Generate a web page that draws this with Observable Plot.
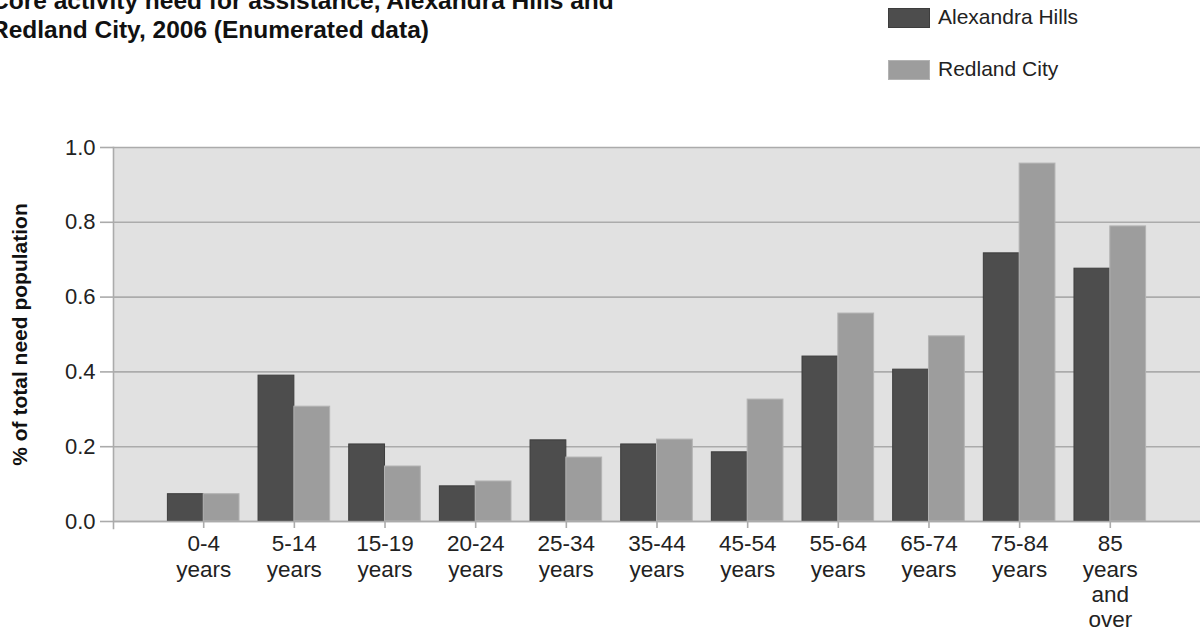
<!DOCTYPE html>
<html>
<head>
<meta charset="utf-8">
<script src="https://cdn.jsdelivr.net/npm/d3@7"></script>
<script src="https://cdn.jsdelivr.net/npm/@observablehq/plot@0.6"></script>
<style>
  html, body { margin: 0; padding: 0; background: #fff; overflow: hidden; }
  body { font-family: "Liberation Sans", Arial, sans-serif; width: 1200px; height: 637px; position: relative; }
  #header { position: relative; height: 100px; }
  #title { position: absolute; left: -9px; top: -14px; font-weight: bold; font-size: 24.5px; line-height: 29px; color: #111; white-space: nowrap; }
  #legend { position: absolute; left: 888px; top: 0; }
  .item { position: absolute; left: 0; white-space: nowrap; font-size: 21px; color: #222; }
  .sw { position: absolute; left: 0; width: 42px; height: 20px; box-sizing: border-box; }
  .lab { position: absolute; left: 50px; top: -3px; line-height: 24px; }
</style>
</head>
<body>
<div id="header">
  <div id="title"></div>
  <div id="legend"></div>
</div>
<div id="chart"></div>
<script>
// ---- data ----
const titleLines = ["Core activity need for assistance, Alexandra Hills and", "Redland City, 2006 (Enumerated data)"];
const yLabel = "% of total need population";
const ageGroups = ["0-4\nyears", "5-14\nyears", "15-19\nyears", "20-24\nyears", "25-34\nyears", "35-44\nyears", "45-54\nyears", "55-64\nyears", "65-74\nyears", "75-84\nyears", "85\nyears\nand\nover"];
const seriesNames = ["Alexandra Hills", "Redland City"];
const alexandraHills = [0.073, 0.390, 0.206, 0.094, 0.217, 0.206, 0.185, 0.441, 0.406, 0.717, 0.676];
const redlandCity    = [0.073, 0.307, 0.147, 0.107, 0.171, 0.219, 0.326, 0.556, 0.495, 0.957, 0.789];
const yTicks = [0, 0.2, 0.4, 0.6, 0.8, 1.0];
const seriesColors = ["#4d4d4d", "#9d9d9d"];
const seriesStrokes = ["#3d3d3d", "#b3b3b3"];

// ---- build rows ----
const rows = [];
ageGroups.forEach((a, i) => {
  rows.push({age: a, series: seriesNames[0], value: alexandraHills[i]});
  rows.push({age: a, series: seriesNames[1], value: redlandCity[i]});
});

// ---- layout ----
const W = 1200, H = 537, mL = 113, mR = 0, mT = 47, mB = 116;
const pInner = 0.21, pOuter = 0.6;
const step = (W - mL - mR) / (ageGroups.length - pInner + 2 * pOuter);
const half = step * (1 - pInner) / 2;
const gridColor = "#ababab";

document.getElementById("title").innerHTML = titleLines.join("<br>");

const chart = Plot.plot({
  width: W, height: H,
  marginLeft: mL, marginRight: mR, marginTop: mT, marginBottom: mB,
  style: {fontFamily: "'Liberation Sans', Arial, sans-serif", background: "transparent", overflow: "visible"},
  x: {domain: ageGroups, paddingInner: pInner, paddingOuter: pOuter, round: false, label: null},
  y: {domain: [0, 1], label: null},
  color: {domain: seriesNames, range: seriesColors},
  marks: [
    Plot.frame({fill: "#e1e1e1", stroke: null}),
    Plot.gridY({ticks: yTicks, stroke: gridColor, strokeOpacity: 1, strokeWidth: 1.6}),
    Plot.axisY({ticks: yTicks, tickFormat: ".1f", tickSize: 13, tickPadding: 5, fontSize: 22, stroke: gridColor, strokeWidth: 1.6, fill: "#222", label: null}),
    Plot.frame({anchor: "left", stroke: gridColor, strokeWidth: 1.6, insetBottom: -7}),
    Plot.barY(rows.filter(d => d.series === seriesNames[0]), {x: "age", y: "value", fill: "series", stroke: seriesStrokes[0], strokeWidth: 1, insetRight: half}),
    Plot.barY(rows.filter(d => d.series === seriesNames[1]), {x: "age", y: "value", fill: "series", stroke: seriesStrokes[1], strokeWidth: 1, insetLeft: half}),
    Plot.ruleY([0], {stroke: gridColor, strokeWidth: 1.6}),
    Plot.axisX({tickSize: 7, tickPadding: 5, fontSize: 22.5, lineHeight: 1.12, stroke: gridColor, strokeWidth: 1.6, fill: "#222", label: null}),
    Plot.text([yLabel], {frameAnchor: "left", textAnchor: "middle", rotate: -90, dx: -93, fontSize: 21, fontWeight: "bold", fill: "#111"})
  ]
});
document.getElementById("chart").appendChild(chart);

// ---- legend (vertical swatches) ----
const legend = document.getElementById("legend");
seriesNames.forEach((name, i) => {
  const item = document.createElement("div");
  item.className = "item";
  item.style.top = (8 + i * 52) + "px";
  const sw = document.createElement("div");
  sw.className = "sw";
  sw.style.background = chart.scale("color").apply(name);
  sw.style.border = "1px solid " + seriesStrokes[i];
  const lab = document.createElement("div");
  lab.className = "lab";
  lab.textContent = name;
  item.appendChild(sw);
  item.appendChild(lab);
  legend.appendChild(item);
});
</script>
</body>
</html>
